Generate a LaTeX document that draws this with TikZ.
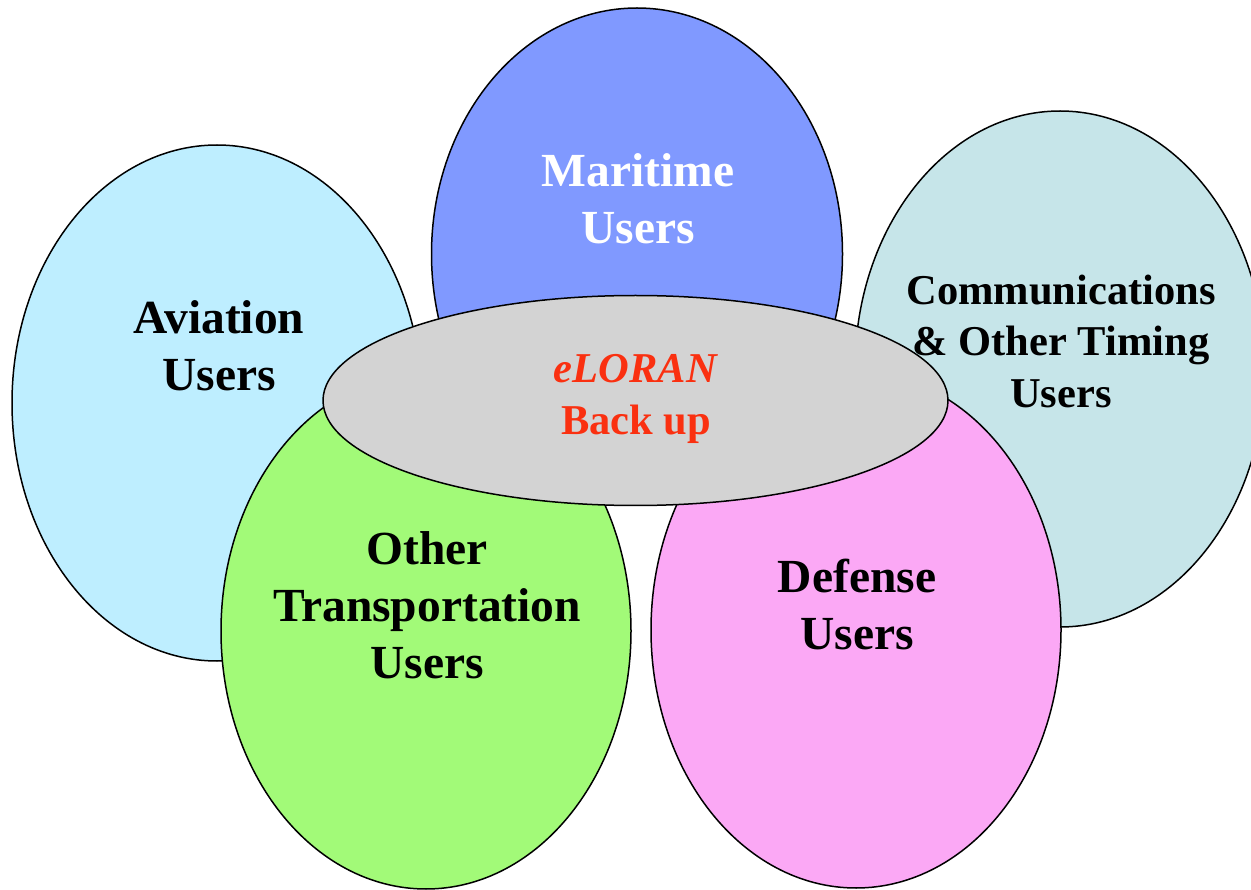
\documentclass[tikz,border=0pt]{standalone}
\usepackage{fontspec}
\setmainfont{Liberation Serif}
\usetikzlibrary{shapes.geometric}
\definecolor{aviation}{RGB}{190,238,255}
\definecolor{maritime}{RGB}{128,153,255}
\definecolor{comm}{RGB}{198,229,233}
\definecolor{othertr}{RGB}{162,250,120}
\definecolor{defense}{RGB}{251,168,245}
\definecolor{eloran}{RGB}{211,211,211}
\definecolor{redtext}{RGB}{250,48,16}
\begin{document}
\begin{tikzpicture}[x=1pt,y=-1pt,
  bubble/.style={ellipse, draw=black, line width=1.5pt, minimum width=410pt, minimum height=516pt, inner sep=0pt},
  big/.style={align=center, inner sep=0pt, font=\fontsize{47.5}{57}\selectfont\bfseries},
  mid/.style={align=center, inner sep=0pt, font=\fontsize{42.5}{51.5}\selectfont\bfseries}]
\useasboundingbox (0,0) rectangle (1251,890);
\clip (0,0) rectangle (1251,890);
\node[bubble, fill=aviation] (av) at (217,403) {};
\node[bubble, fill=maritime, minimum width=411pt, minimum height=492pt] (ma) at (637,254) {};
\node[bubble, fill=comm] (co) at (1060,369) {};
\node[bubble, fill=othertr] (ot) at (426,631) {};
\node[bubble, fill=defense] (de) at (856,630) {};
\node[ellipse, draw=black, line width=1.5pt, fill=eloran, minimum width=625pt, minimum height=210pt, inner sep=0pt] (el) at (635.5,400.5) {};
\node[big] (avt) at (219,346) {Aviation\\Users};
\node[big, text=white] (mat) at (638,199) {Maritime\\Users};
\node[mid] (cot) at (1061,341) {Communications\\\& Other Timing\\Users};
\node[big] (ott) at (427,605) {Other\\Transportation\\Users};
\node[big] (det) at (857,605) {Defense\\Users};
\node[mid, text=redtext] (elt) at (636,399) {\textit{eLORAN}\\Back up};
\end{tikzpicture}
\end{document}
